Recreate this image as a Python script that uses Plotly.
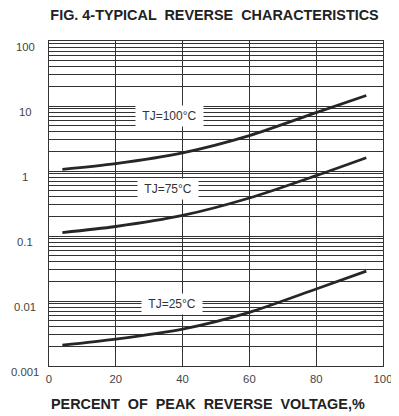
import math
import plotly.graph_objects as go

# Data
percent_voltage = [4, 20, 40, 60, 80, 95]
ir_tj100 = [1.06, 1.3, 1.9, 3.5, 7.9, 14.5]
ir_tj75 = [0.113, 0.14, 0.207, 0.384, 0.85, 1.6]
ir_tj25 = [0.0021, 0.0026, 0.0037, 0.0067, 0.0153, 0.0288]

series_names = ["TJ=100°C", "TJ=75°C", "TJ=25°C"]
label_x = [36.2, 35.6, 36.8]
label_y = [7.0, 0.53, 0.009]

x_ticks = [0, 20, 40, 60, 80, 100]
y_ticks = [0.001, 0.01, 0.1, 1, 10, 100]
y_tick_text = ["0.001", "0.01", "0.1", "1", "10", "100"]

minor_vals = [m * 10 ** e for e in range(-3, 2) for m in range(2, 10)]

NB = "\u00a0"
SP2 = " " + NB

# page body has a default 8px margin; compensate so the figure fits the window
W, H = 391, 408
ML, MR, MT, MB = 41, 15.5, 33, 49.5
plot_w = W - ML - MR
plot_h = H - MT - MB

fig = go.Figure()
for ys in (ir_tj100, ir_tj75, ir_tj25):
    fig.add_trace(go.Scatter(
        x=percent_voltage, y=ys, mode="lines",
        line=dict(color="#262626", width=2.8, shape="spline", smoothing=0.8),
        showlegend=False, hoverinfo="skip"))

for name, lx, ly in zip(series_names, label_x, label_y):
    fig.add_annotation(x=lx, y=math.log10(ly), text=NB + name + NB, showarrow=False,
                       bgcolor="white", borderpad=3,
                       font=dict(family="Liberation Sans, Arial", size=12, color="#333333"))

# y tick labels, centred in the left margin as in the reference
for v, t in zip(y_ticks, y_tick_text):
    fig.add_annotation(x=-24 / plot_w, xref="paper", xanchor="center",
                       y=math.log10(v), yref="y", yanchor="middle", yshift=-5.5,
                       text=t, showarrow=False,
                       font=dict(family="Liberation Sans, Arial", size=11.3, color="#444444"))

title_text = "<b>FIG. 4-TYPICAL" + SP2 + "REVERSE" + SP2 + "CHARACTERISTICS</b>"
xtitle_text = "<b>PERCENT" + SP2 + "OF" + SP2 + "PEAK" + SP2 + "REVERSE" + SP2 + "VOLTAGE,%</b>"

# x-axis title placed like the reference (slightly left of the plot centre)
fig.add_annotation(x=(208 - 8 - ML) / plot_w, xref="paper", xanchor="center",
                   y=-(405 - 8 - MT - plot_h) / plot_h, yref="paper", yanchor="middle",
                   text=xtitle_text, showarrow=False,
                   font=dict(family="Liberation Sans, Arial", size=14.4, color="#222222"))

fig.update_layout(
    width=W, height=H,
    margin=dict(l=ML, r=MR, t=MT, b=MB, autoexpand=False),
    plot_bgcolor="white", paper_bgcolor="white",
    title=dict(text=title_text,
               x=(214.8 - 8 - ML) / plot_w, xref="paper", xanchor="center",
               y=1 - 6.6 / H, yref="container", yanchor="middle",
               font=dict(family="Liberation Sans, Arial", size=14.4, color="#222222")),
    font=dict(family="Liberation Sans, Arial", size=11.3, color="#444444"),
)
fig.update_xaxes(
    range=[0, 100], tickvals=x_ticks, showgrid=True, gridcolor="#333333", gridwidth=1,
    showline=True, linecolor="#333333", linewidth=1, mirror=True, zeroline=False,
    ticks="", ticklen=0, ticklabelstandoff=2, automargin=False,
)
fig.update_yaxes(
    type="log", range=[-3, 2], tickvals=y_ticks, showticklabels=False,
    showgrid=True, gridcolor="#333333", gridwidth=1,
    showline=True, linecolor="#333333", linewidth=1, mirror=True, zeroline=False,
    ticks="", automargin=False,
    minor=dict(tickvals=minor_vals, showgrid=True, gridcolor="#333333", gridwidth=1, ticks=""),
)

fig.write_html("out.html")
